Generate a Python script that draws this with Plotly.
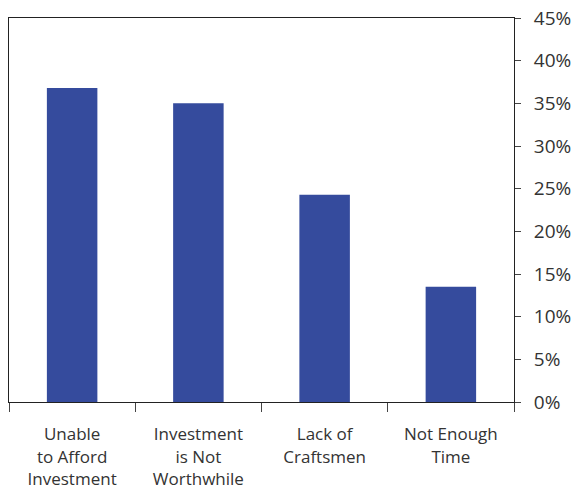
import plotly.graph_objects as go

categories = ["Unable<br>to Afford<br>Investment", "Investment<br>is Not<br>Worthwhile",
              "Lack of<br>Craftsmen", "Not Enough<br>Time"]
values = [36.8, 35.0, 24.3, 13.5]
tick_vals = [0, 5, 10, 15, 20, 25, 30, 35, 40, 45]
tick_text = [f"{v}%" for v in tick_vals]

fig = go.Figure(go.Bar(
    x=categories, y=values, width=0.4,
    marker=dict(color="#354b9d", line=dict(width=0)),
))

fig.update_layout(
    width=580, height=489,
    margin=dict(l=9, r=66, t=18, b=87),
    paper_bgcolor="white", plot_bgcolor="white",
    showlegend=False,
    font=dict(family="Open Sans", color="#333333"),
)
fig.update_xaxes(
    showline=True, linecolor="#222222", linewidth=1, mirror=True,
    ticks="outside", ticklen=9, tickcolor="#444444", tickwidth=1,
    tickson="boundaries", tickfont=dict(size=17, color="#333333"),
    ticklabelstandoff=17, automargin=False,
    showgrid=False, zeroline=False,
)
fig.update_yaxes(
    side="right", range=[0, 45],
    tickvals=tick_vals, ticktext=tick_text,
    showline=True, linecolor="#222222", linewidth=1, mirror=True,
    ticks="outside", ticklen=6, tickcolor="#444444", tickwidth=1,
    tickfont=dict(size=19, color="#333333"),
    ticklabelstandoff=9, automargin=False,
    showgrid=False, zeroline=False,
)

fig.write_html("out.html")
